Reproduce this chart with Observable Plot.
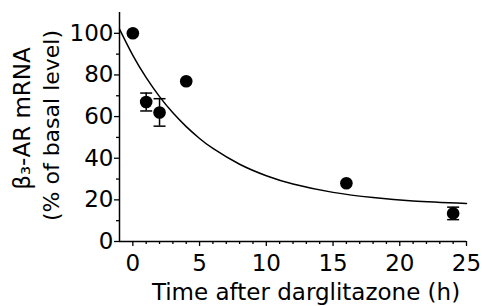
<!DOCTYPE html>
<html>
<head>
<meta charset="utf-8">
<script src="https://cdn.jsdelivr.net/npm/d3@7"></script>
<script src="https://cdn.jsdelivr.net/npm/@observablehq/plot@0.6"></script>
<style>
  html, body { margin: 0; padding: 0; background: #fff; }
</style>
</head>
<body>
<div id="chart"></div>
<script>
// Measured points
const times = [0, 1, 2, 4, 16, 24];
const mrna = [100, 67, 62, 77, 28, 13.5];
const sem = [0, 4.3, 6.6, 0, 0, 3];

// Fitted decay curve
const fitX = [-1, 0, 1, 2, 3, 4, 5, 6, 8, 10, 12, 15, 18, 21, 25];
const fitY = [102, 89.4, 78.7, 69.6, 61.8, 55.2, 49.5, 44.7, 37.1, 31.6, 27.6, 23.6, 21.1, 19.5, 18.3];

// Axis ticks
const xTicks = [0, 5, 10, 15, 20, 25];
const xMinorTicks = d3.range(0, 26).filter(v => v % 5 !== 0);
const yTicks = [0, 20, 40, 60, 80, 100];
const yMinorTicks = [10, 30, 50, 70, 90];

const xLabel = "Time after darglitazone (h)";
const yLabel1 = "β₃-AR mRNA";
const yLabel2 = "(% of basal level)";

const points = times.map((t, i) => ({t, v: mrna[i], e: sem[i]}));
const errs = points.filter(d => d.e > 0);
const fit = fitX.map((x, i) => ({x, y: fitY[i]}));

const cap = {
  draw(context, size) {
    context.moveTo(-6, 0);
    context.lineTo(6, 0);
  }
};

const FS = 22;
const TS = 23;
const FF = "'DejaVu Sans', sans-serif";

const chart = Plot.plot({
  width: 482,
  height: 306,
  marginLeft: 119,
  marginRight: 16,
  marginTop: 12,
  marginBottom: 65,
  style: {fontFamily: FF, fontSize: FS + "px", color: "#000", background: "#fff"},
  x: {domain: [-1, 25]},
  y: {domain: [0, 110]},
  marks: [
    Plot.axisY({ticks: yTicks, tickSize: 5, tickPadding: 1, strokeWidth: 1.3, label: null, fontSize: TS, fontFamily: FF, fill: "#000"}),
    Plot.axisY({ticks: yMinorTicks, tickSize: 3, text: null, strokeWidth: 1.3, label: null}),
    Plot.axisX({ticks: xTicks, tickSize: 5, tickPadding: 8, strokeWidth: 1.3, label: null, fontSize: TS, fontFamily: FF, fill: "#000"}),
    Plot.axisX({ticks: xMinorTicks, tickSize: 3, text: null, strokeWidth: 1.3, label: null}),
    Plot.ruleX([-1], {strokeWidth: 1.5}),
    Plot.ruleY([0], {strokeWidth: 1.5}),
    Plot.line(fit, {x: "x", y: "y", curve: "natural", strokeWidth: 1.5, stroke: "#000"}),
    Plot.ruleX(errs, {x: "t", y1: d => d.v - d.e, y2: d => d.v + d.e, strokeWidth: 1.5}),
    Plot.dot(errs, {x: "t", y: d => d.v + d.e, symbol: cap, stroke: "#000", strokeWidth: 1.5, fill: "none"}),
    Plot.dot(errs, {x: "t", y: d => d.v - d.e, symbol: cap, stroke: "#000", strokeWidth: 1.5, fill: "none"}),
    Plot.dot(points, {x: "t", y: "v", r: 6.3, fill: "#000", stroke: "none"}),
    Plot.text([xLabel], {text: d => d, frameAnchor: "bottom", textAnchor: "middle", dx: 13, dy: 51.5, lineAnchor: "middle", fill: "#000", fontSize: 23, fontFamily: FF}),
    Plot.text([yLabel1], {text: d => d, frameAnchor: "left", textAnchor: "middle", rotate: -90, dx: -97, dy: -8.5, lineAnchor: "middle", fill: "#000", fontSize: 23, fontFamily: FF}),
    Plot.text([yLabel2], {text: d => d, frameAnchor: "left", textAnchor: "middle", rotate: -90, dx: -67.5, dy: -1.5, lineAnchor: "middle", fill: "#000", fontSize: FS, fontFamily: FF})
  ]
});
document.getElementById("chart").appendChild(chart);
</script>
</body>
</html>
